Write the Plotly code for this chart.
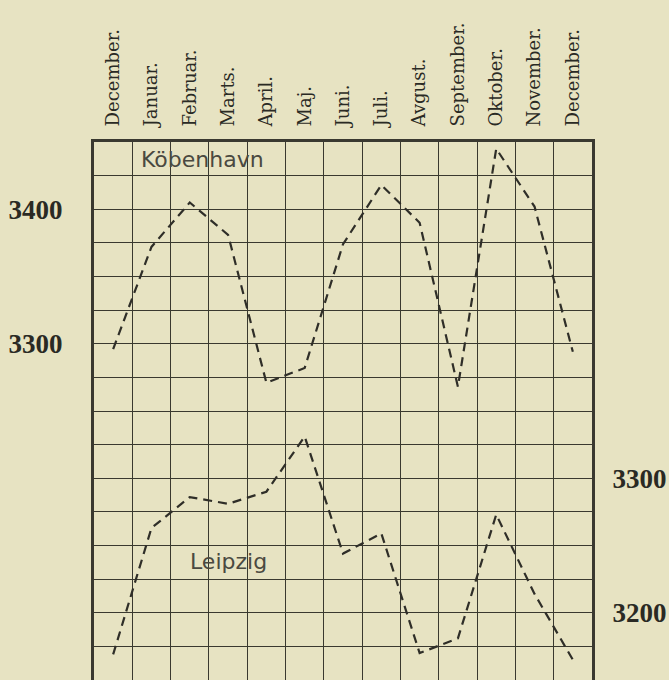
import plotly.graph_objects as go

months = ["December.", "Januar.", "Februar.", "Marts.", "April.", "Maj.", "Juni.",
          "Juli.", "Avgust.", "September.", "Oktober.", "November.", "December."]
kobenhavn = [3296, 3372, 3405, 3381, 3271, 3282, 3374, 3418, 3390, 3268, 3445, 3402, 3294]
leipzig = [3169, 3263, 3286, 3281, 3290, 3331, 3244, 3259, 3170, 3181, 3273, 3214, 3165]
left_ticks = [3300, 3400]
right_ticks = [3200, 3300]

x = list(range(len(months)))
bg = "#E7E3C2"
ink = "#2f2e28"
grid = "#3a392f"

fig = go.Figure()
fig.add_trace(go.Scatter(x=x, y=kobenhavn, mode="lines", yaxis="y",
                         line=dict(color=ink, width=2.2, dash="9px,6px"),
                         showlegend=False, hoverinfo="skip"))
fig.add_trace(go.Scatter(x=x, y=leipzig, mode="lines", yaxis="y2",
                         line=dict(color=ink, width=2.2, dash="9px,6px"),
                         showlegend=False, hoverinfo="skip"))

fig.add_annotation(text="Köbenhavn", x=0.68, y=3437, xref="x", yref="y",
                   xanchor="left", yanchor="middle", showarrow=False,
                   font=dict(family="DejaVu Sans", size=22, color="#4a4940"))
fig.add_annotation(text="Leipzig", x=1.95, y=3238, xref="x", yref="y2",
                   xanchor="left", yanchor="middle", showarrow=False,
                   font=dict(family="DejaVu Sans", size=22, color="#4a4940"))

fig.update_layout(
    width=669, height=680,
    margin=dict(l=94, r=77, t=142, b=0),
    paper_bgcolor=bg, plot_bgcolor=bg,
    xaxis=dict(
        side="top", range=[-0.5, len(months) - 0.5],
        tickmode="array", tickvals=x, ticktext=months, tickangle=-90,
        ticks="", ticklabelstandoff=9,
        tickfont=dict(family="DejaVu Serif", size=18, color="#2a2a24"),
        showgrid=False, zeroline=False,
        showline=True, linewidth=3, linecolor="#3a3930",
        minor=dict(tickmode="array", tickvals=[i + 0.5 for i in range(len(months) - 1)],
                   showgrid=True, gridcolor=grid, gridwidth=1.4, ticks=""),
    ),
    yaxis=dict(
        range=[3050, 3450], tickmode="array", tickvals=left_ticks,
        ticktext=[str(v) for v in left_ticks], ticks="", ticklabelstandoff=23,
        tickfont=dict(family="Liberation Serif", size=27, color="#2a2a24", weight="bold"),
        showgrid=True, gridcolor=grid, gridwidth=1.4, zeroline=False,
        showline=True, linewidth=3, linecolor="#3a3930",
        minor=dict(tickmode="linear", tick0=3050, dtick=25, showgrid=True,
                   gridcolor=grid, gridwidth=1.4, ticks=""),
    ),
    yaxis2=dict(
        range=[3150, 3550], overlaying="y", side="right",
        tickmode="array", tickvals=right_ticks,
        ticktext=[str(v) for v in right_ticks], ticks="", ticklabelstandoff=12,
        tickfont=dict(family="Liberation Serif", size=27, color="#2a2a24", weight="bold"),
        showgrid=False, zeroline=False,
        showline=True, linewidth=3, linecolor="#3a3930",
    ),
)

fig.write_html("out.html", config={"displayModeBar": False},
               post_script="document.body.style.margin='0px';document.body.style.overflow='hidden';")
